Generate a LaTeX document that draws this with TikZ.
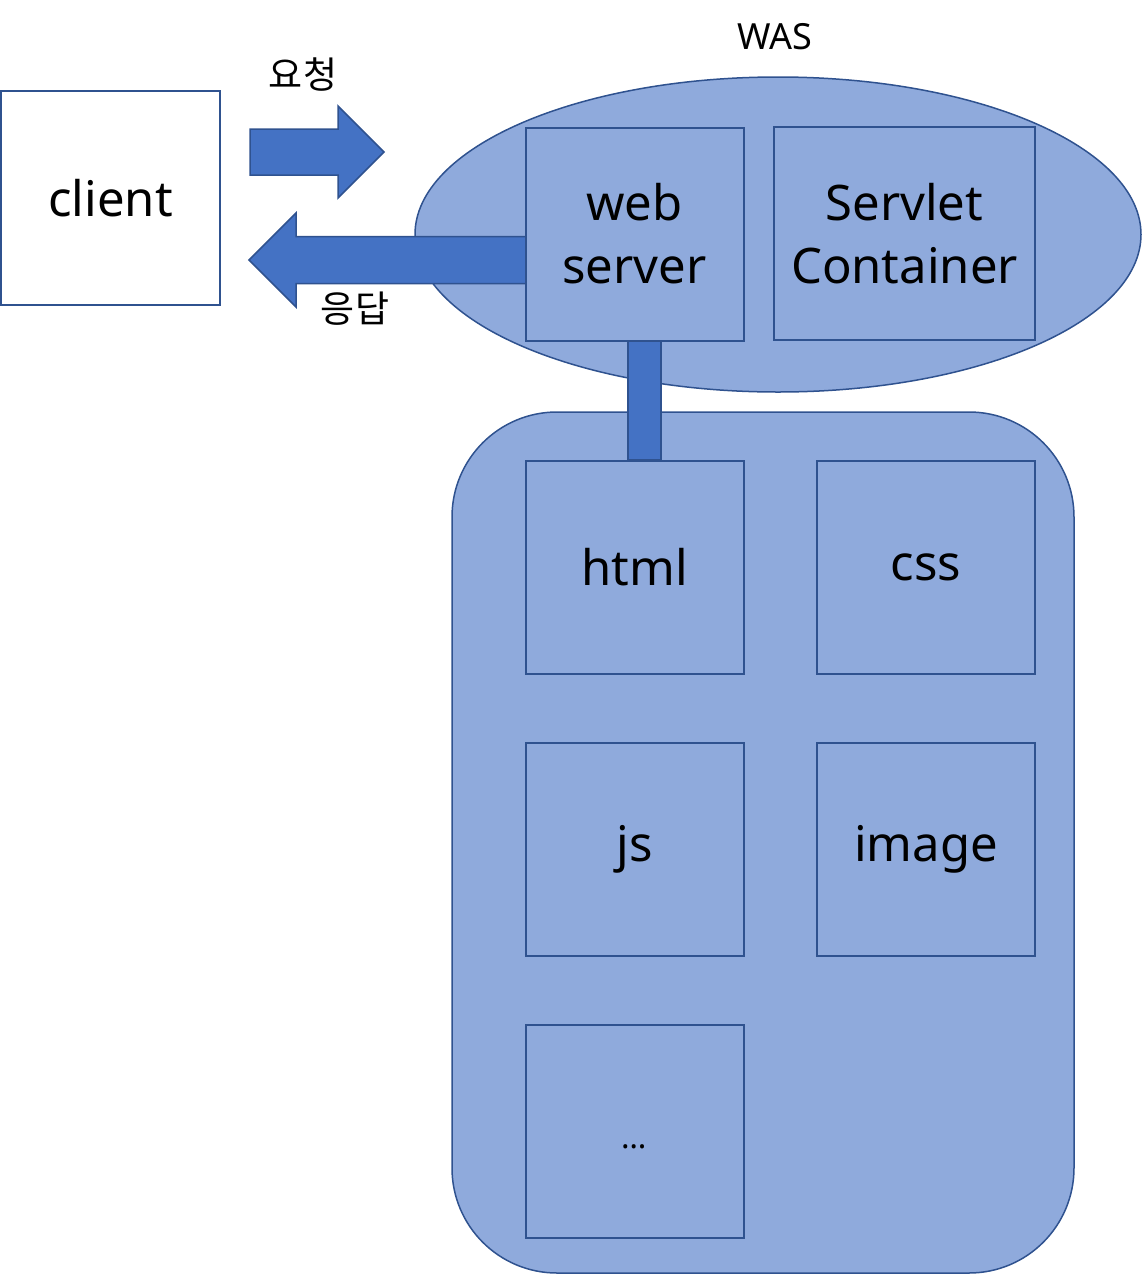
\documentclass[tikz,border=0pt]{standalone}
\usepackage{fontspec}
\setmainfont{Noto Sans}
\newfontfamily\cjk{Noto Sans CJK KR}
\usetikzlibrary{shapes.geometric}
\definecolor{lightfill}{HTML}{8FAADC}
\definecolor{darkedge}{HTML}{2F528F}
\definecolor{arrowfill}{HTML}{4472C4}
\tikzset{
  boxnode/.style={draw=darkedge, line width=2pt, fill=lightfill, rectangle, inner sep=0pt,
    minimum width=218pt, minimum height=213pt, align=center,
    font=\fontsize{49}{63}\selectfont},
  blockarrow/.style={draw=darkedge, line width=1.5pt, fill=arrowfill, line join=miter},
  smalltext/.style={font=\fontsize{36}{42}\selectfont, inner sep=0pt},
  krtext/.style={font=\cjk\fontsize{37}{44}\selectfont, inner sep=0pt},
}
\begin{document}
\begin{tikzpicture}[x=1pt,y=-1pt]
\useasboundingbox (0,0) rectangle (1143,1275);
% containers
\node[ellipse, draw=darkedge, line width=1.5pt, fill=lightfill, minimum width=726pt, minimum height=315pt, inner sep=0pt] (was) at (778,234.5) {};
\node[rectangle, rounded corners=105pt, draw=darkedge, line width=1.5pt, fill=lightfill, minimum width=622pt, minimum height=861pt, inner sep=0pt] (static) at (763,842.5) {};
% client
\node[boxnode, fill=white, minimum width=219pt, minimum height=214pt] (client) at (110.5,198) {client};
% request arrow
\draw[blockarrow] (250,129) -- (338,129) -- (338,106) -- (384,152) -- (338,198) -- (338,175) -- (250,175) -- cycle;
% response arrow
\draw[blockarrow] (526,236.5) -- (296,236.5) -- (296,213) -- (249,260) -- (296,307) -- (296,283.5) -- (526,283.5) -- cycle;
% connector between web server and static
\draw[blockarrow] (628,341) rectangle (661,459.5);
% boxes
\node[boxnode] (ws) at (634.5,234) {web\\server};
\node[boxnode, minimum width=261pt] (sc) at (904.5,233.5) {Servlet\\Container};
\node[boxnode] (html) at (634.5,567) {html};
\node[boxnode] (css) at (926,567) {css};
\node[boxnode] (js) at (634.5,849.5) {js};
\node[boxnode] (image) at (926,849.5) {image};
\node[boxnode] (more) at (634.5,1131.5) {\raisebox{-17pt}[0pt][0pt]{\fontsize{32}{36}\selectfont\bfseries …}};
% labels
\node[smalltext] (waslbl) at (775,37) {WAS};
\node[krtext] (req) at (303,75) {요청};
\node[krtext] (resp) at (355,309) {응답};
\end{tikzpicture}
\end{document}
